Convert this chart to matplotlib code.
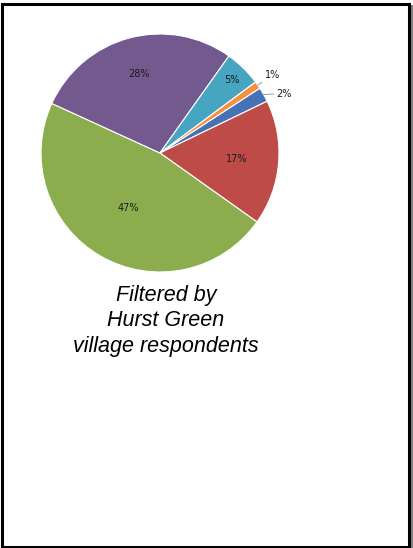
import numpy as np
import matplotlib
matplotlib.use('Agg')
import matplotlib.pyplot as plt
from matplotlib.patches import Rectangle

# slice values in Excel series order, clockwise
labels = ['2%', '17%', '47%', '28%', '5%', '1%']
values = [2, 17, 47, 28, 5, 1]
colors = ['#4472B4', '#BE4B48', '#8CAD4E', '#74598F', '#46A5C0', '#F59040']
label_r = [None, 0.65, 0.53, 0.69, 0.86, None]
caption = 'Filtered by\nHurst Green\nvillage respondents'

W, H = 414, 548
fig = plt.figure(figsize=(W / 100, H / 100), dpi=100)
fig.patch.set_facecolor('white')

# frame with grey shadow
fig.add_artist(Rectangle((409 / W, 0), 5 / W, 543 / H, transform=fig.transFigure,
                         facecolor='#808080', edgecolor='none', zorder=-2))
fig.add_artist(Rectangle((2.5 / W, 1.5 / H), 407 / W, 543 / H, transform=fig.transFigure,
                         facecolor='white', edgecolor='black', linewidth=2.2, zorder=-1))

cx, cy, R = 160, 153, 119
ax = fig.add_axes([(cx - R) / W, (H - cy - R) / H, 2 * R / W, 2 * R / H])
ax.set_zorder(2)
wedges, _ = ax.pie(values, colors=colors, startangle=33, counterclock=False,
                   wedgeprops=dict(edgecolor='white', linewidth=0.8))
ax.set_xlim(-1, 1)
ax.set_ylim(-1, 1)
ax.set_aspect('equal')
ax.axis('off')

font = 'DejaVu Sans'
for w, lab, r in zip(wedges, labels, label_r):
    mid = np.deg2rad((w.theta1 + w.theta2) / 2)
    if r is not None:
        ax.text(r * np.cos(mid), r * np.sin(mid), lab, ha='center', va='center',
                fontsize=7, color='#1a1a1a', family=font)

# outside labels with leader lines
for i, (dx, dy) in zip([5, 0], [(1.07, 0.045), (1.12, -0.05)]):
    w = wedges[i]
    mid = np.deg2rad((w.theta1 + w.theta2) / 2)
    x0, y0 = np.cos(mid), np.sin(mid)
    ax.annotate(labels[i], xy=(x0, y0), xytext=(x0 * dx, y0 * dx + dy),
                ha='left', va='center', fontsize=7, color='#1a1a1a', family=font,
                arrowprops=dict(arrowstyle='-', color='#999999', lw=0.7,
                                shrinkA=0, shrinkB=0))

fig.text(166 / W, 1 - 321 / H, caption, ha='center', va='center', fontsize=15.5,
         style='italic', family='Liberation Sans', linespacing=1.27, color='black')

fig.savefig('out.png', dpi=100)
